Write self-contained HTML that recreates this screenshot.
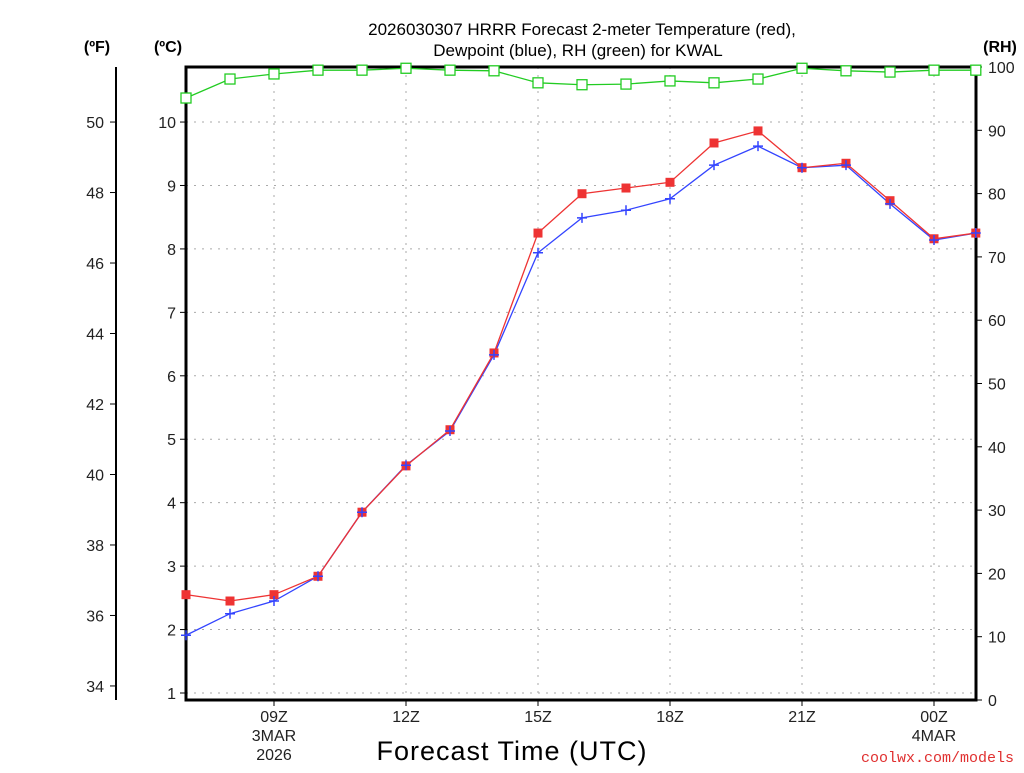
<!DOCTYPE html>
<html><head><meta charset="utf-8"><style>
body{margin:0;background:#fff;width:1024px;height:768px;overflow:hidden}
svg{font-family:"Liberation Sans",sans-serif}
</style></head><body>
<svg id="chart" width="1024" height="768" xmlns="http://www.w3.org/2000/svg">
<text x="582" y="35" text-anchor="middle" font-size="17" fill="#000">2026030307 HRRR Forecast 2-meter Temperature (red),</text>
<text x="578" y="56" text-anchor="middle" font-size="17" fill="#000">Dewpoint (blue), RH (green) for KWAL</text>
<text x="97" y="52" text-anchor="middle" font-size="16" font-weight="bold">(ºF)</text>
<text x="168" y="52" text-anchor="middle" font-size="16" font-weight="bold">(ºC)</text>
<text x="1000" y="52" text-anchor="middle" font-size="16" font-weight="bold">(RH)</text>
<text x="512" y="760" text-anchor="middle" font-size="27" letter-spacing="1">Forecast Time (UTC)</text>
<text x="1014" y="762" text-anchor="end" font-size="15" fill="#e03030" font-family="Liberation Mono,monospace">coolwx.com/models</text>
<g id="grid"></g><g id="axes"></g><g id="series"></g>
</svg>
<script>
const hours=[7,8,9,10,11,12,13,14,15,16,17,18,19,20,21,22,23,24,25];
const tempC=[2.55,2.45,2.55,2.84,3.85,4.58,5.15,6.36,8.25,8.87,8.96,9.05,9.67,9.86,9.28,9.35,8.76,8.16,8.25];
const dewC=[1.91,2.25,2.45,2.84,3.85,4.59,5.13,6.33,7.94,8.49,8.61,8.79,9.32,9.62,9.28,9.32,8.71,8.14,8.25];
const rh=[95.1,98.1,98.9,99.5,99.5,99.8,99.5,99.4,97.5,97.2,97.3,97.8,97.5,98.1,99.8,99.4,99.2,99.5,99.5];
const cTicks=[1,2,3,4,5,6,7,8,9,10];
const fTicks=[34,36,38,40,42,44,46,48,50];
const rhTicks=[0,10,20,30,40,50,60,70,80,90,100];
const xTickHours=[9,12,15,18,21,24];
const xTickLabels=["09Z","12Z","15Z","18Z","21Z","00Z"];
const xSubLabels={9:["3MAR","2026"],24:["4MAR"]};
const L=186,R=976,T=67,B=700;
const X=h=>L+(h-7)*44;
const YC=c=>693-(c-1)*63.44;
const YF=f=>YC((f-32)/1.8);
const YR=r=>B-r*6.33;
const NS="http://www.w3.org/2000/svg";
function mk(p,tag,a,txt){const e=document.createElementNS(NS,tag);for(const k in a)e.setAttribute(k,a[k]);if(txt!==undefined)e.textContent=txt;p.appendChild(e);return e;}
const grid=document.getElementById('grid'),axes=document.getElementById('axes'),ser=document.getElementById('series');
cTicks.forEach(c=>{const y=YC(c);
 const g=mk(grid,'line',{x1:L,x2:R,y1:y,y2:y,stroke:'#aaa','stroke-dasharray':'2,6'});
 
 
 mk(axes,'line',{x1:L-6,x2:L,y1:y,y2:y,stroke:'#000'});
 const t=mk(axes,'text',{x:L-10,y:y+6,'text-anchor':'end','font-size':16,fill:'#222'},c);
 
 
});
xTickHours.forEach((h,i)=>{const x=X(h);
 const g=mk(grid,'line',{x1:x,x2:x,y1:T,y2:B,stroke:'#aaa','stroke-dasharray':'2,6'});
 
 
 mk(axes,'line',{x1:x,x2:x,y1:B,y2:B+6,stroke:'#000'});
 const t=mk(axes,'text',{x:x,y:B+22,'text-anchor':'middle','font-size':16,fill:'#222'},xTickLabels[i]);
 
 
 (xSubLabels[h]||[]).forEach((s,j)=>{const u=mk(axes,'text',{x:x,y:B+41+j*19,'text-anchor':'middle','font-size':16,fill:'#222'},s);
  
  });
});
const fa=mk(axes,'line',{x1:116,x2:116,y1:T,y2:B,stroke:'#000','stroke-width':2});


fTicks.forEach(f=>{const y=YF(f);
 mk(axes,'line',{x1:110,x2:116,y1:y,y2:y,stroke:'#000'});
 const t=mk(axes,'text',{x:104,y:y+6,'text-anchor':'end','font-size':16,fill:'#222'},f);
 
 
});
rhTicks.forEach(r=>{const y=YR(r);
 mk(axes,'line',{x1:R,x2:R+6,y1:y,y2:y,stroke:'#000'});
 const t=mk(axes,'text',{x:R+12,y:y+6,'text-anchor':'start','font-size':16,fill:'#222'},r);
 
 
});
const fr=mk(axes,'rect',{x:L,y:T,width:R-L,height:B-T,fill:'none',stroke:'#000','stroke-width':3});


function line(vals,yf,col,name){
 const pts=hours.map((h,i)=>X(Math.min(h,24.95))+','+yf(vals[i])).join(' ');
 const p=mk(ser,'polyline',{points:pts,fill:'none',stroke:col,'stroke-width':1.3});
 
 
}
const cp=mk(ser,'clipPath',{id:'clip'});mk(cp,'rect',{x:L-6,y:T-6,width:R-L+12,height:B-T+12});
line(rh,YR,'#22cc22','rh-line');
line(dewC,YC,'#3344ff','dewpoint-line');
line(tempC,YC,'#ee3333','temperature-line');
hours.forEach((h,i)=>{const x=X(Math.min(h,24.95));
 const g=mk(ser,'rect',{x:x-5,y:YR(rh[i])-5,width:10,height:10,fill:'#fff',stroke:'#22cc22','stroke-width':1.3});
 
 
 const r=mk(ser,'rect',{x:x-4.5,y:YC(tempC[i])-4.5,width:9,height:9,fill:'#ee3333'});
 
 
 const y=YC(dewC[i]);
 const d=mk(ser,'path',{d:`M${x-5},${y}H${x+5}M${x},${y-5}V${y+5}`,stroke:'#3344ff','stroke-width':1.5});
 
 
});
</script>
</body></html>
